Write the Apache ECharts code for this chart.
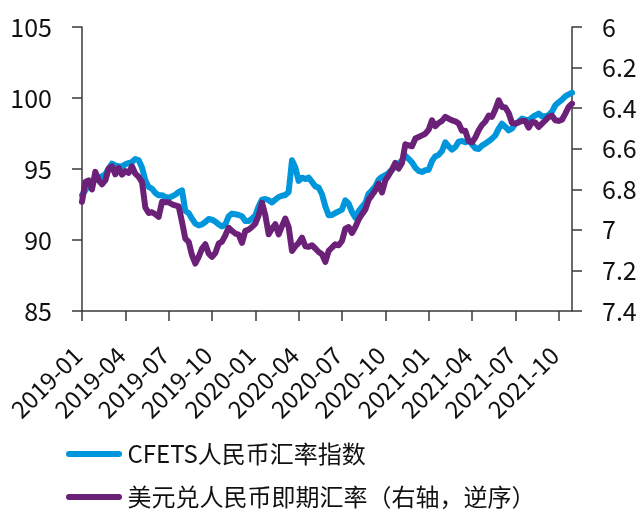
<!DOCTYPE html>
<html>
<head>
<meta charset="utf-8">
<script src="https://cdn.jsdelivr.net/npm/echarts@6/dist/echarts.min.js"></script>
<style>
html,body{margin:0;padding:0;background:#fff;}
#chart{width:642px;height:510px;}
</style>
</head>
<body>
<div id="chart"></div>
<script>
// Weekly observation dates (Fridays)
const categories = [
'2019-01-04','2019-01-11','2019-01-18','2019-01-25','2019-02-01','2019-02-08','2019-02-15','2019-02-22','2019-03-01','2019-03-08',
'2019-03-15','2019-03-22','2019-03-29','2019-04-05','2019-04-12','2019-04-19','2019-04-26','2019-05-03','2019-05-10','2019-05-17',
'2019-05-24','2019-05-31','2019-06-07','2019-06-14','2019-06-21','2019-06-28','2019-07-05','2019-07-12','2019-07-19','2019-07-26',
'2019-08-02','2019-08-09','2019-08-16','2019-08-23','2019-08-30','2019-09-06','2019-09-13','2019-09-20','2019-09-27','2019-10-04',
'2019-10-11','2019-10-18','2019-10-25','2019-11-01','2019-11-08','2019-11-15','2019-11-22','2019-11-29','2019-12-06','2019-12-13',
'2019-12-20','2019-12-27','2020-01-03','2020-01-10','2020-01-17','2020-01-24','2020-01-31','2020-02-07','2020-02-14','2020-02-21',
'2020-02-28','2020-03-06','2020-03-13','2020-03-20','2020-03-27','2020-04-03','2020-04-10','2020-04-17','2020-04-24','2020-05-01',
'2020-05-08','2020-05-15','2020-05-22','2020-05-29','2020-06-05','2020-06-12','2020-06-19','2020-06-26','2020-07-03','2020-07-10',
'2020-07-17','2020-07-24','2020-07-31','2020-08-07','2020-08-14','2020-08-21','2020-08-28','2020-09-04','2020-09-11','2020-09-18',
'2020-09-25','2020-10-02','2020-10-09','2020-10-16','2020-10-23','2020-10-30','2020-11-06','2020-11-13','2020-11-20','2020-11-27',
'2020-12-04','2020-12-11','2020-12-18','2020-12-25','2021-01-01','2021-01-08','2021-01-15','2021-01-22','2021-01-29','2021-02-05',
'2021-02-12','2021-02-19','2021-02-26','2021-03-05','2021-03-12','2021-03-19','2021-03-26','2021-04-02','2021-04-09','2021-04-16',
'2021-04-23','2021-04-30','2021-05-07','2021-05-14','2021-05-21','2021-05-28','2021-06-04','2021-06-11','2021-06-18','2021-06-25',
'2021-07-02','2021-07-09','2021-07-16','2021-07-23','2021-07-30','2021-08-06','2021-08-13','2021-08-20','2021-08-27','2021-09-03',
'2021-09-10','2021-09-17','2021-09-24','2021-10-01','2021-10-08','2021-10-15','2021-10-22','2021-10-29'
];

// CFETS RMB index (left axis)
const cfetsIndex = [
93.15,93.50,93.85,94.09,94.25,94.39,94.49,94.63,95.03,95.38,
95.26,95.19,95.19,95.33,95.42,95.49,95.71,95.61,95.10,94.20,
93.73,93.62,93.31,93.15,93.15,93.03,92.98,93.07,93.19,93.38,
93.50,92.04,91.90,91.50,91.15,91.03,91.10,91.27,91.48,91.43,
91.29,91.10,90.96,91.10,91.67,91.86,91.81,91.76,91.67,91.34,
91.34,91.50,91.74,92.37,92.84,92.89,92.80,92.65,92.84,93.03,
93.12,93.17,93.38,95.61,95.10,94.16,94.39,94.30,94.39,94.09,
93.78,93.69,93.22,92.37,91.74,91.76,91.90,92.02,92.14,92.80,
92.56,91.97,91.57,92.04,92.33,92.61,93.27,93.50,93.78,94.25,
94.44,94.56,94.72,94.95,95.14,95.38,95.61,95.94,95.71,95.47,
95.10,94.86,94.79,94.91,94.95,95.56,95.89,95.99,96.27,96.88,
96.60,96.36,96.55,96.93,96.97,96.88,97.02,96.74,96.46,96.41,
96.65,96.79,96.95,97.14,97.37,97.84,98.19,97.96,97.72,97.84,
98.19,98.33,98.55,98.48,98.43,98.62,98.78,98.90,98.71,98.71,
98.80,99.04,99.49,99.70,99.88,100.12,100.26,100.38
];

// USD/CNY spot (right axis, inverted)
const usdCny = [
6.862,6.764,6.756,6.801,6.714,6.756,6.775,6.756,6.698,6.687,
6.726,6.695,6.728,6.710,6.719,6.687,6.723,6.739,6.764,6.890,
6.917,6.913,6.923,6.936,6.862,6.864,6.864,6.874,6.879,6.884,
6.961,7.043,7.059,7.125,7.166,7.133,7.092,7.071,7.117,7.133,
7.114,7.068,7.058,7.027,6.990,7.005,7.018,7.023,7.064,7.005,
6.999,6.986,6.969,6.928,6.867,6.928,7.022,6.994,6.972,7.022,
6.982,6.944,6.986,7.104,7.081,7.064,7.038,7.081,7.084,7.076,
7.092,7.109,7.120,7.158,7.104,7.087,7.071,7.076,7.055,6.994,
6.986,7.015,6.986,6.949,6.923,6.900,6.851,6.829,6.805,6.772,
6.815,6.756,6.731,6.703,6.670,6.698,6.670,6.578,6.583,6.588,
6.550,6.542,6.534,6.526,6.506,6.460,6.489,6.473,6.463,6.443,
6.452,6.460,6.465,6.476,6.512,6.512,6.563,6.568,6.545,6.509,
6.483,6.466,6.437,6.443,6.407,6.361,6.394,6.397,6.424,6.473,
6.476,6.470,6.463,6.463,6.496,6.468,6.471,6.493,6.476,6.460,
6.443,6.437,6.460,6.463,6.457,6.427,6.394,6.378
];

const seriesNames = ['CFETS人民币汇率指数', '美元兑人民币即期汇率（右轴，逆序）'];
const leftTicks = {min: 85, max: 105, interval: 5};
const rightTicks = {min: 6, max: 7.4, interval: 0.2};

const FONT = '"Noto Sans CJK SC", "Noto Sans", sans-serif';
const axisColor = '#3a3a3a';
const lineIcon = 'path://M3,0 L53,0 A3,3 0 0 1 53,6 L3,6 A3,3 0 0 1 3,0 Z';

function legendFor(name, top) {
  return {
    orient: 'vertical',
    left: 66,
    top: top,
    padding: 0,
    itemWidth: 57,
    itemHeight: 6,
    itemGap: 0,
    data: [{name: name, icon: lineIcon}],
    textStyle: {fontFamily: FONT, fontSize: 24, color: '#111'}
  };
}

const chart = echarts.init(document.getElementById('chart'), null, {renderer: 'canvas'});
chart.setOption({
  animation: false,
  backgroundColor: '#ffffff',
  textStyle: {fontFamily: FONT},
  grid: {left: 82, right: 70, top: 27, bottom: 199, containLabel: false},
  legend: [legendFor(seriesNames[0], 442), legendFor(seriesNames[1], 485)],
  xAxis: {
    type: 'category',
    data: categories,
    boundaryGap: false,
    axisLine: {lineStyle: {color: axisColor, width: 1.5}},
    axisTick: {interval: 12, length: 10, lineStyle: {color: axisColor, width: 1.5}},
    axisLabel: {
      interval: 12,
      rotate: 45,
      margin: 36,
      padding: [0, 6, 0, 0],
      fontFamily: FONT,
      fontSize: 24,
      color: '#111',
      formatter: v => v.slice(0, 7)
    },
    splitLine: {show: false}
  },
  yAxis: [
    {
      type: 'value',
      min: leftTicks.min, max: leftTicks.max, interval: leftTicks.interval,
      axisLine: {show: true, lineStyle: {color: axisColor, width: 1.5}},
      axisTick: {show: true, length: 10, lineStyle: {color: axisColor, width: 1.5}},
      axisLabel: {margin: 30, fontFamily: FONT, fontSize: 25, color: '#111'},
      splitLine: {show: false}
    },
    {
      type: 'value',
      inverse: true,
      min: rightTicks.min, max: rightTicks.max, interval: rightTicks.interval,
      axisLine: {show: true, lineStyle: {color: axisColor, width: 1.5}},
      axisTick: {show: true, length: 10, lineStyle: {color: axisColor, width: 1.5}},
      axisLabel: {margin: 30, fontFamily: FONT, fontSize: 25, color: '#111',
        formatter: v => String(Math.round(v * 10) / 10)},
      splitLine: {show: false}
    }
  ],
  series: [
    {
      name: seriesNames[0],
      type: 'line',
      yAxisIndex: 0,
      data: cfetsIndex,
      symbol: 'none',
      color: '#0096DC',
      lineStyle: {width: 6, color: '#0096DC', cap: 'round', join: 'round'}
    },
    {
      name: seriesNames[1],
      type: 'line',
      yAxisIndex: 1,
      data: usdCny,
      symbol: 'none',
      color: '#6B2178',
      lineStyle: {width: 6, color: '#6B2178', cap: 'round', join: 'round'}
    }
  ]
});
</script>
</body>
</html>
